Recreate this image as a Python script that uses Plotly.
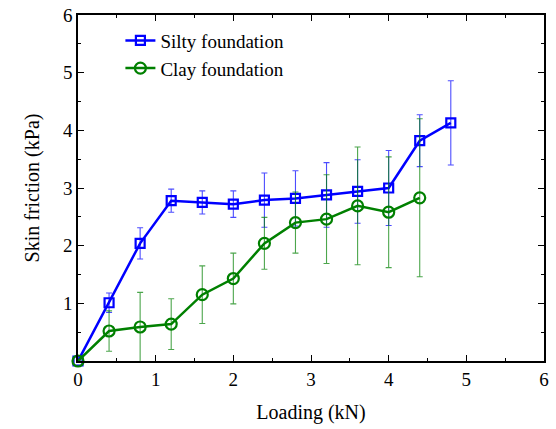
import plotly.graph_objects as go

loading = [0, 0.4, 0.8, 1.2, 1.6, 2.0, 2.4, 2.8, 3.2, 3.6, 4.0, 4.4, 4.8]
silty = [0, 1.01, 2.04, 2.78, 2.75, 2.72, 2.79, 2.82, 2.88, 2.94, 3.00, 3.82, 4.13]
silty_err = [0, 0.17, 0.27, 0.20, 0.20, 0.23, 0.47, 0.48, 0.56, 0.55, 0.65, 0.45, 0.73]

loading_clay = [0, 0.4, 0.8, 1.2, 1.6, 2.0, 2.4, 2.8, 3.2, 3.6, 4.0, 4.4]
clay = [0, 0.52, 0.59, 0.64, 1.15, 1.43, 2.04, 2.40, 2.46, 2.69, 2.58, 2.83]
clay_err = [0, 0.35, 0.60, 0.44, 0.50, 0.44, 0.45, 0.53, 0.77, 1.02, 0.96, 1.37]

FONT = "Liberation Serif, Times New Roman, serif"

fig = go.Figure()
fig.add_trace(go.Scatter(
    x=loading, y=silty, name="Silty foundation", mode="lines+markers",
    line=dict(color="#0000ff", width=2.5),
    marker=dict(symbol="square-open", size=9, color="#0000ff", line=dict(width=2.2)),
    error_y=dict(type="data", array=silty_err, color="rgba(0,0,255,0.7)", thickness=1.1, width=3),
    cliponaxis=False,
))
fig.add_trace(go.Scatter(
    x=loading_clay, y=clay, name="Clay foundation", mode="lines+markers",
    line=dict(color="#008000", width=2.5),
    marker=dict(symbol="circle-open", size=11, color="#008000", line=dict(width=2.2)),
    error_y=dict(type="data", array=clay_err, color="rgba(0,128,0,0.7)", thickness=1.1, width=3),
    cliponaxis=False,
))

axis_common = dict(
    showgrid=False, zeroline=False, showline=True, linecolor="black", linewidth=1.5,
    mirror="ticks", ticks="inside", ticklen=6, tickcolor="black", tickwidth=1.2,
    tickfont=dict(family=FONT, size=19, color="black"), automargin=False,
    minor=dict(ticks="inside", ticklen=3, tickcolor="black", tickwidth=1, dtick=0.5, showgrid=False),
)

fig.update_xaxes(range=[0, 6], tickvals=[0, 1, 2, 3, 4, 5, 6],
                 title=dict(text="Loading (kN)", font=dict(family=FONT, size=20, color="black"), standoff=16),
                 **axis_common)
fig.update_yaxes(range=[0, 6], tickvals=[1, 2, 3, 4, 5, 6],
                 title=dict(text="Skin friction (kPa)", font=dict(family=FONT, size=20, color="black"), standoff=18),
                 **axis_common)

fig.update_layout(
    width=556, height=429,
    margin=dict(l=78, r=12, t=15, b=68),
    plot_bgcolor="white", paper_bgcolor="white",
    legend=dict(x=0.091, y=0.981, xanchor="left", yanchor="top",
                font=dict(family=FONT, size=19, color="black"),
                bgcolor="rgba(0,0,0,0)", tracegroupgap=0, itemwidth=30),
    showlegend=True,
)

fig.write_html("out.html")
